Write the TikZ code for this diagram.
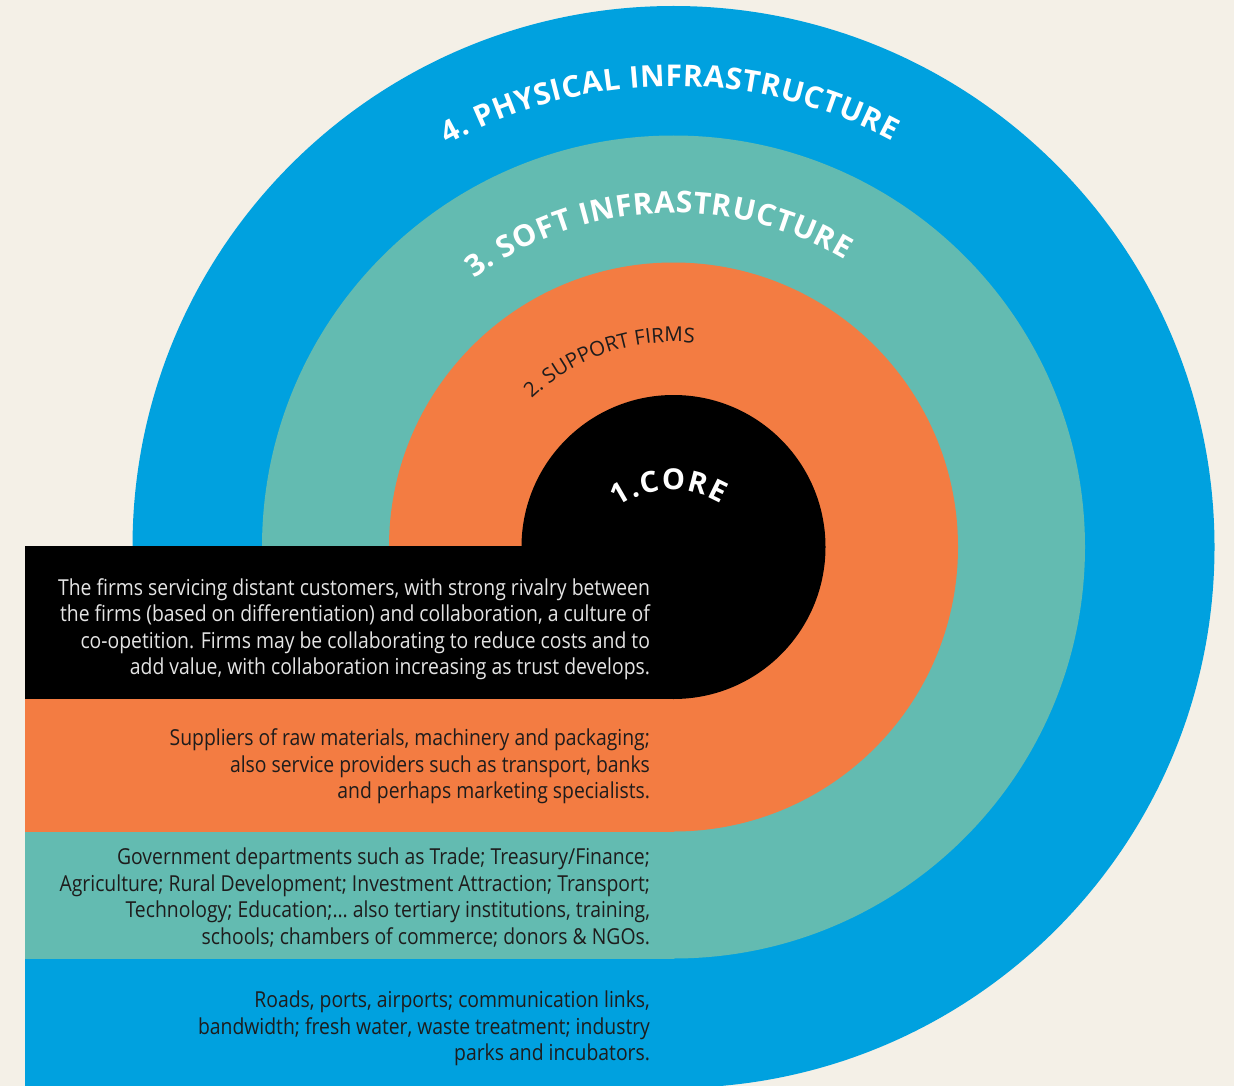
\documentclass[tikz,border=0pt]{standalone}
\usepackage{fontspec}
\setmainfont{Open Sans}[FakeStretch=0.88]
\newfontfamily\headfont{Open Sans}
\usetikzlibrary{decorations.text,calc}
\definecolor{bgc}{RGB}{244,240,231}
\definecolor{ringblue}{RGB}{0,161,223}
\definecolor{ringteal}{RGB}{99,187,177}
\definecolor{ringorange}{RGB}{243,124,66}
\definecolor{ringcore}{RGB}{0,0,0}
\definecolor{lighttext}{RGB}{228,228,228}
\definecolor{darktext}{RGB}{30,28,28}
\tikzset{
  bodytext/.style={anchor=north east, align=right, inner sep=0pt, outer sep=0pt,
    font=\fontsize{22}{26.5}\selectfont},
}
\newcommand{\firststrut}{\rule{0pt}{22pt}}
\begin{document}
\begin{tikzpicture}[x=1pt,y=1pt]
\useasboundingbox (0,0) rectangle (1234,-1086);
\fill[bgc] (0,0) rectangle (1234,-1086);
\coordinate (C) at (673.5,-547);
\coordinate (Cc) at (672,-585);
% rings
\fill[ringblue] (C) circle[radius=541];
\fill[ringblue] (25,-546) rectangle (673.5,-1086);
\fill[ringteal] (C) circle[radius=411.5];
\fill[ringteal] (25,-546) rectangle (673.5,-958.5);
\fill[ringorange] (C) circle[radius=284.5];
\fill[ringorange] (25,-546) rectangle (673.5,-831.5);
\fill[ringcore] (C) circle[radius=152];
\fill[ringcore] (25,-546) rectangle (673.5,-699);
% curved headings
\path[decorate, decoration={text along path, text align={fit to path},
  text={|\headfont\bfseries\fontsize{30}{31}\selectfont\color{white}|4. PHYSICAL INFRASTRUCTURE}}]
  ($(C)+(119.3:461)$) arc[start angle=119.3, end angle=61.7, radius=461];
\path[decorate, decoration={text along path, text align={fit to path},
  text={|\headfont\bfseries\fontsize{30}{31}\selectfont\color{white}|3. SOFT INFRASTRUCTURE}}]
  ($(C)+(126.6:334)$) arc[start angle=126.6, end angle=59.2, radius=334];
\path[decorate, decoration={text along path, text align=center,
  text={|\headfont\fontsize{20.5}{21}\selectfont\color{darktext}|2. SUPPORT FIRMS}}]
  ($(C)+(199:205)$) arc[start angle=199, end angle=19, radius=205];
\path[decorate, decoration={text along path, text align={fit to path},
  text={|\headfont\bfseries\fontsize{29}{30}\selectfont\color{white}|1.CORE}}]
  ($(Cc)+(125:95)$) arc[start angle=125, end angle=59, radius=95];
% body texts
\node[bodytext, text=lighttext] (coretext) at (650,-573) {\firststrut The firms servicing distant customers, with strong rivalry between\\
the firms (based on differentiation) and collaboration, a culture of\\
co-opetition. Firms may be collaborating to reduce costs and to\\
add value, with collaboration increasing as trust develops.};
\node[bodytext, text=darktext] (supporttext) at (650,-723.5) {\firststrut Suppliers of raw materials, machinery and packaging;\\
also service providers such as transport, banks\\
and perhaps marketing specialists.};
\node[bodytext, text=darktext] (softtext) at (650,-842.5) {\firststrut Government departments such as Trade; Treasury/Finance;\\
Agriculture; Rural Development; Investment Attraction; Transport;\\
Technology; Education;… also tertiary institutions, training,\\
schools; chambers of commerce; donors \& NGOs.};
\node[bodytext, text=darktext] (physicaltext) at (650,-985.5) {\firststrut Roads, ports, airports; communication links,\\
bandwidth; fresh water, waste treatment; industry\\
parks and incubators.};
\end{tikzpicture}
\end{document}
